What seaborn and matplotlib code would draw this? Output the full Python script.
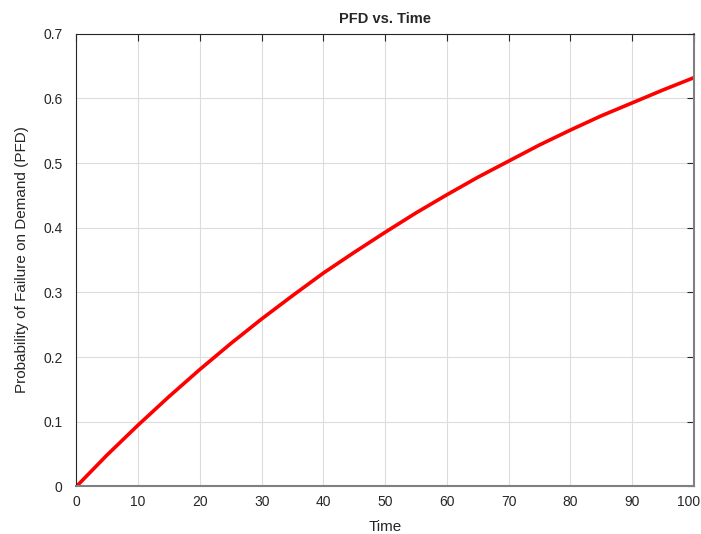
import seaborn as sns
import matplotlib.pyplot as plt
from matplotlib.transforms import ScaledTranslation

# values
time = [0, 5, 10, 15, 20, 25, 30, 35, 40, 45, 50,
        55, 60, 65, 70, 75, 80, 85, 90, 95, 100]
pfd = [0.0, 0.049, 0.095, 0.139, 0.181, 0.221, 0.259, 0.295, 0.330, 0.362, 0.393,
       0.423, 0.451, 0.478, 0.503, 0.528, 0.551, 0.573, 0.593, 0.613, 0.632]
x_ticks = [0, 10, 20, 30, 40, 50, 60, 70, 80, 90, 100]
y_ticks = [0, 0.1, 0.2, 0.3, 0.4, 0.5, 0.6, 0.7]
y_labels = ["0", "0.1", "0.2", "0.3", "0.4", "0.5", "0.6", "0.7"]

sns.set_style("white")
plt.rcParams["font.family"] = ["Liberation Sans", "DejaVu Sans"]

fig = plt.figure(figsize=(7.01, 5.34), dpi=100)
ax = fig.add_axes([0.109, 0.089, 0.881, 0.848])

sns.lineplot(x=time, y=pfd, ax=ax, color="#ff0000", linewidth=2.6)

ax.set_xlim(0, 100)
ax.set_ylim(0, 0.7)
ax.set_xticks(x_ticks)
ax.set_yticks(y_ticks)
ax.set_yticklabels(y_labels)
ax.grid(True, color="#dcdcdc", linewidth=0.8)
ax.set_axisbelow(True)
ax.tick_params(direction="in", length=5, width=0.8, top=True, right=True,
               labelsize=10, colors="#262626")
ax.tick_params(axis="x", pad=6)
ax.tick_params(axis="y", pad=10)
for side in ["top", "left"]:
    ax.spines[side].set_color("#262626")
    ax.spines[side].set_linewidth(0.8)
for side in ["bottom", "right"]:
    ax.spines[side].set_color("#808080")
    ax.spines[side].set_linewidth(1.5)

# last x label sits a bit left so it stays inside the figure
last = ax.get_xticklabels()[-1]
last.set_transform(last.get_transform() + ScaledTranslation(-5 / 100, 0, fig.dpi_scale_trans))

ax.set_title("PFD vs. Time", fontsize=10.5, fontweight="bold", pad=8)
ax.set_xlabel("Time", fontsize=11, color="#262626", labelpad=8)
ax.set_ylabel("Probability of Failure on Demand (PFD)", fontsize=11, color="#262626", labelpad=10)

fig.savefig("out.png", dpi=100)
